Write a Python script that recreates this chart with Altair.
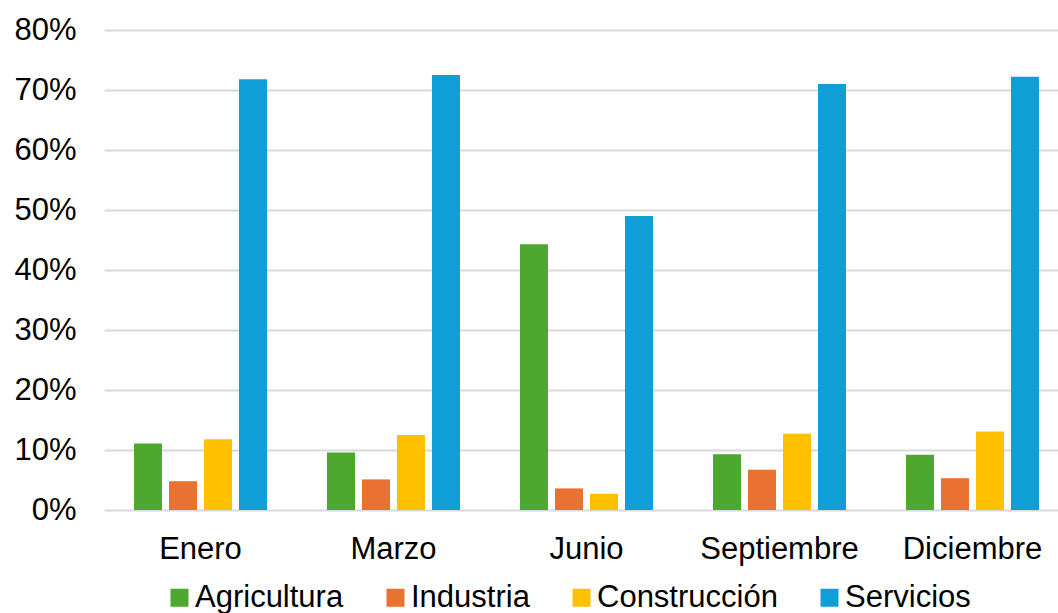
import altair as alt
import pandas as pd

months = ["Enero", "Marzo", "Junio", "Septiembre", "Diciembre"]
sectors = ["Agricultura", "Industria", "Construcción", "Servicios"]
colors = ["#4EA72E", "#E97132", "#FFC000", "#0F9ED5"]

agricultura = [0.111, 0.096, 0.443, 0.093, 0.092]
industria = [0.048, 0.051, 0.036, 0.067, 0.053]
construccion = [0.118, 0.125, 0.027, 0.127, 0.131]
servicios = [0.718, 0.725, 0.490, 0.710, 0.722]

series = [agricultura, industria, construccion, servicios]
rows = []
for s, vals in zip(sectors, series):
    for m, v in zip(months, vals):
        rows.append({"Mes": m, "Sector": s, "Valor": v})
df = pd.DataFrame(rows)

FONT = "Liberation Sans"

chart = alt.Chart(df).mark_bar().encode(
    x=alt.X("Mes:N", sort=months, title=None,
            scale=alt.Scale(paddingInner=0.311, paddingOuter=0.127, align=0.612),
            axis=alt.Axis(labelAngle=0, ticks=False, domain=False, grid=False,
                          labelFontSize=31, labelFont=FONT, labelColor="#000000",
                          labelPadding=24)),
    xOffset=alt.XOffset("Sector:N", sort=sectors,
                        scale=alt.Scale(paddingInner=0.2, paddingOuter=0)),
    y=alt.Y("Valor:Q", title=None,
            scale=alt.Scale(domain=[0, 0.8], nice=False),
            axis=alt.Axis(values=[0, 0.1, 0.2, 0.3, 0.4, 0.5, 0.6, 0.7, 0.8],
                          format=".0%", ticks=False, domain=False,
                          labelFontSize=31, labelFont=FONT, labelColor="#000000",
                          labelPadding=28, grid=True, gridColor="#D9D9D9",
                          gridWidth=2)),
    color=alt.Color("Sector:N", sort=sectors,
                    scale=alt.Scale(domain=sectors, range=colors),
                    legend=alt.Legend(title=None, orient="none", direction="horizontal",
                                      legendX=60, legendY=552,
                                      symbolType="square", symbolSize=324,
                                      symbolStrokeWidth=0, labelLimit=400,
                                      labelFontSize=31, labelFont=FONT,
                                      labelColor="#000000", labelOffset=0,
                                      columnPadding=36, padding=0)),
).properties(
    width=954, height=480,
    background="white",
    autosize=alt.AutoSizeParams(type="none"),
    padding={"left": 104, "top": 30, "right": 0, "bottom": 103},
).configure_view(stroke=None)

chart.save("out.html", embed_options={"renderer": "svg", "actions": False})
